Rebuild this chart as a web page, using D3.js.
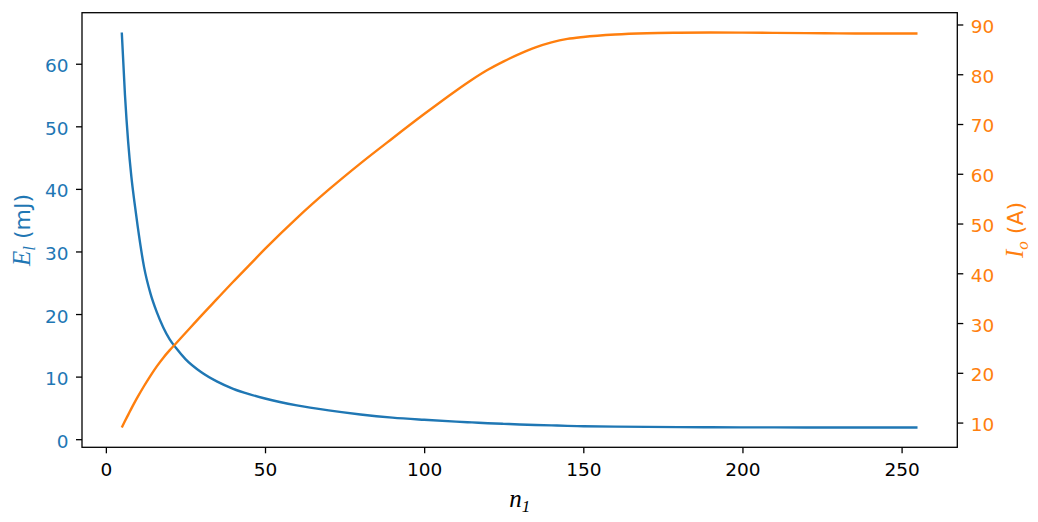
<!DOCTYPE html>
<html>
<head>
<meta charset="utf-8">
<script src="https://cdn.jsdelivr.net/npm/d3@7/dist/d3.min.js"></script>
<style>
  body { margin: 0; background: #fff; overflow: hidden; }
  svg { display: block; }
</style>
</head>
<body>
<svg id="svgx"></svg>
<script>
// ---------------- data
const nVals = [5,6,7,8,9,10,12,14,16,18,20,22,25,30,35,40,45,50,60,70,80,90,100,110,115,120,125,130,135,140,145,150,160,170,180,190,200,210,220,230,240,255];
const energy = [65.0,55.0,47.5,42.0,37.8,34.0,27.5,23.3,20.3,17.9,16.0,14.6,12.8,10.7,9.2,8.05,7.2,6.5,5.4,4.6,3.95,3.45,3.1,2.8,2.68,2.55,2.45,2.35,2.27,2.2,2.13,2.07,2.0,1.96,1.93,1.91,1.89,1.88,1.87,1.86,1.86,1.86];
const current = [9.0,10.3,11.55,12.8,14.0,15.15,17.35,19.4,21.3,23.0,24.5,25.9,28.0,31.5,34.9,38.3,41.6,44.9,51.1,56.8,62.1,67.1,72.0,76.7,78.9,80.9,82.6,84.1,85.4,86.4,87.1,87.5,88.0,88.25,88.35,88.4,88.37,88.32,88.27,88.22,88.2,88.2];
const xTicks = [0,50,100,150,200,250];
const leftTicks = [0,10,20,30,40,50,60];
const rightTicks = [10,20,30,40,50,60,70,80,90];

// ---------------- sizes
const widthA = 1038, heightA = 522;
const margin = {top: 12.7, right: 80.7, bottom: 74.7, left: 82};
const innerWidth = widthA - margin.left - margin.right;
const innerHeight = heightA - margin.top - margin.bottom;
const fontsize = 18.5;
const labelsize = 22;
const tickLen = 6;
const blue = '#1f77b4', orange = '#ff7f0e';

const svg = d3.select('#svgx')
  .attr('width', widthA)
  .attr('height', heightA);

const g = svg.append('g')
  .attr('transform', `translate(${margin.left},${margin.top})`);

// matplotlib style 5% padding around the data
function padded(vals) {
  const [lo, hi] = d3.extent(vals);
  const m = (hi - lo) * 0.05;
  return [lo - m, hi + m];
}

const xScale = d3.scaleLinear().domain(padded(nVals)).range([0, innerWidth]);
const yLeft = d3.scaleLinear().domain(padded(energy)).range([innerHeight, 0]);
const yRight = d3.scaleLinear().domain(padded(current)).range([innerHeight, 0]);

// ---------------- axes
function styleAxis(sel, color) {
  sel.attr('font-size', null).attr('font-family', null);
  sel.select('.domain').remove();
  sel.selectAll('.tick line').attr('stroke', '#000').attr('stroke-width', 1.3);
  sel.selectAll('.tick text')
    .attr('fill', color)
    .style('font-size', fontsize + 'px')
    .style('font-family', 'DejaVu Sans');
}

const xAxisG = g.append('g')
  .attr('transform', `translate(0,${innerHeight})`)
  .call(d3.axisBottom(xScale).tickValues(xTicks).tickSize(tickLen).tickPadding(10).tickFormat(d3.format('d')));
styleAxis(xAxisG, '#000');

const yAxisG = g.append('g')
  .call(d3.axisLeft(yLeft).tickValues(leftTicks).tickSize(tickLen).tickPadding(7.5).tickFormat(d3.format('d')));
styleAxis(yAxisG, blue);
yAxisG.selectAll('.tick text').attr('dy', '0.43em');

const y2AxisG = g.append('g')
  .attr('transform', `translate(${innerWidth},0)`)
  .call(d3.axisRight(yRight).tickValues(rightTicks).tickSize(tickLen).tickPadding(7.5).tickFormat(d3.format('d')));
styleAxis(y2AxisG, orange);
y2AxisG.selectAll('.tick text').attr('dy', '0.43em');

// ---------------- lines
const lineE = d3.line()
  .x((d, i) => xScale(nVals[i]))
  .y(d => yLeft(d))
  .curve(d3.curveMonotoneX);

const lineI = d3.line()
  .x((d, i) => xScale(nVals[i]))
  .y(d => yRight(d))
  .curve(d3.curveMonotoneX);

g.append('path')
  .attr('d', lineE(energy))
  .attr('fill', 'none')
  .attr('stroke', blue)
  .attr('stroke-width', 2.4);

g.append('path')
  .attr('d', lineI(current))
  .attr('fill', 'none')
  .attr('stroke', orange)
  .attr('stroke-width', 2.4);

// frame
g.append('rect')
  .attr('width', innerWidth)
  .attr('height', innerHeight)
  .attr('fill', 'none')
  .attr('stroke', '#000')
  .attr('stroke-width', 1.3);

// ---------------- labels
const mathFont = 'Liberation Serif';

function mathLabel(parent, sym, sub, rest, color) {
  const t = parent.append('text')
    .attr('text-anchor', 'middle')
    .attr('fill', color)
    .style('font-family', 'DejaVu Sans')
    .style('font-size', labelsize + 'px');
  t.append('tspan').text(sym)
    .style('font-family', mathFont).style('font-style', 'italic').style('font-size', '25px');
  t.append('tspan').text(sub).attr('dy', 5)
    .style('font-family', mathFont).style('font-style', 'italic').style('font-size', '17px');
  if (rest) t.append('tspan').text(rest).attr('dy', -5);
  return t;
}

// x label
mathLabel(svg.append('g').attr('transform', `translate(${margin.left + innerWidth / 2},507)`), 'n', '1', '', '#000');

// left y label
mathLabel(svg.append('g').attr('transform', `translate(30,${margin.top + innerHeight / 2}) rotate(-90)`), 'E', 'l', '\u00a0(mJ)', blue);

// right y label
mathLabel(svg.append('g').attr('transform', `translate(1023,${margin.top + innerHeight / 2}) rotate(-90)`), 'I', 'o', '\u00a0(A)', orange);
</script>
</body>
</html>
